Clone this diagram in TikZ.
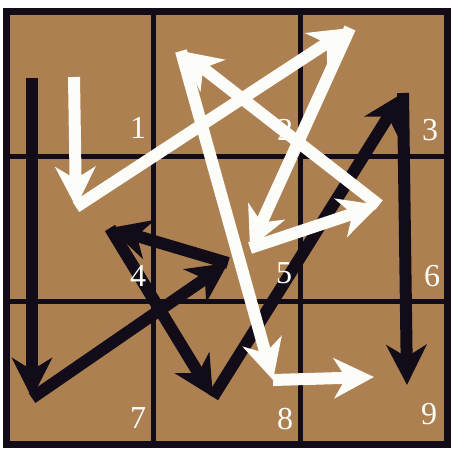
\documentclass[tikz,border=0pt]{standalone}
\usepackage{fontspec}
\setmainfont{Liberation Serif}
\usetikzlibrary{arrows.meta}
\definecolor{wood}{RGB}{172,128,80}
\definecolor{ink}{RGB}{18,12,24}
\definecolor{chalk}{RGB}{252,252,248}
\begin{document}
\begin{tikzpicture}[x=1pt,y=-1pt,
  arr/.style={line width=12pt, -{Stealth[length=40pt,width=40pt,inset=12pt]}},
  warr/.style={arr, draw=chalk},
  barr/.style={arr, draw=ink},
  gridline/.style={draw=ink, line width=5pt},
  lbl/.style={text=chalk, font=\fontsize{32}{32}\selectfont, inner sep=0pt}]
\useasboundingbox (0,0) rectangle (454,451);
\fill[white] (0,0) rectangle (454,451);
\fill[wood] (6.5,11.5) rectangle (447.5,444.5);
% grid
\draw[gridline] (153,11.5) -- (153,444.5);
\draw[gridline] (300.5,11.5) -- (300.5,444.5);
\draw[gridline] (6.5,156.5) -- (447.5,156.5);
\draw[gridline] (6.5,301) -- (447.5,301);
\draw[draw=ink, line width=7pt] (6.5,11.5) rectangle (447.5,444.5);
% black path
\coordinate (b0) at (32,78);
\coordinate (b1) at (32,398);
\coordinate (b2) at (228,263);
\coordinate (b3) at (110,228);
\coordinate (b4) at (213,397);
\coordinate (b5) at (403,93);
\coordinate (b6) at (407,385);
\draw[barr] (b0) -- (b1);
\draw[barr] (b1) -- (b2);
\draw[barr] (b2) -- (b3);
\draw[barr] (b3) -- (b4);
\draw[barr] (b4) -- (b5);
\draw[barr] (b5) -- (b6);
% labels
\node[lbl] (n1) at (138,128) {1};
\node[lbl] (n2) at (285,130) {2};
\node[lbl] (n3) at (430,130) {3};
\node[lbl] (n4) at (138,276) {4};
\node[lbl] (n5) at (284,273) {5};
\node[lbl] (n6) at (432,276) {6};
\node[lbl] (n7) at (138,418) {7};
\node[lbl] (n8) at (285,419) {8};
\node[lbl] (n9) at (429,414) {9};
% white path
\coordinate (w0) at (74,77);
\coordinate (w1) at (76,207);
\coordinate (w2) at (350,28);
\coordinate (w3) at (250,248);
\coordinate (w4) at (379,205);
\coordinate (w5) at (181,51);
\coordinate (w6) at (273,380);
\coordinate (w7) at (374,377);
\draw[warr] (w0) -- (w1);
\draw[warr] (w1) -- (w2);
\draw[warr] (w2) -- (w3);
\draw[warr] (w3) -- (w4);
\draw[warr] (w4) -- (w5);
\draw[warr] (w5) -- (w6);
\draw[warr] (w6) -- (w7);
\end{tikzpicture}
\end{document}
